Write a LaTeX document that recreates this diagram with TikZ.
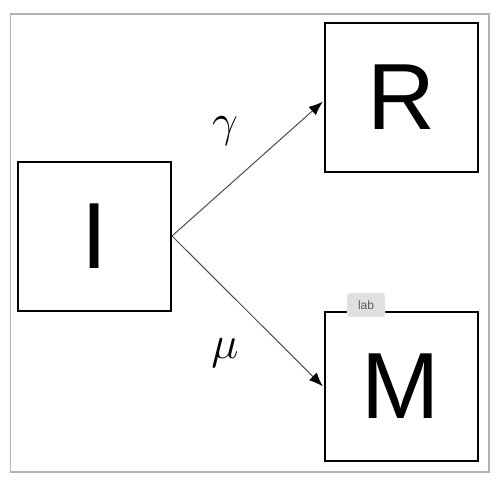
\documentclass[tikz,border=0pt]{standalone}
\usepackage{fontspec}
\newfontfamily\arialfont{Liberation Sans}
\usetikzlibrary{arrows.meta, positioning}
\tikzset{
    state/.style={rectangle, draw=black, line width=2pt, minimum width=153pt, minimum height=149pt, inner sep=0pt, text centered, font=\arialfont\fontsize{94}{94}\selectfont},
    arrow/.style={line width=1pt, draw=black!70, -{Latex[length=14pt, width=11pt, color=black]}, shorten >=1pt},
    rate/.style={font=\fontsize{24.88}{24.88}\selectfont, scale=1.85},
    tag/.style={rectangle, rounded corners=3pt, fill=black!12, draw=black!6, minimum width=38pt, minimum height=24pt, inner sep=0pt, text=black!65, font=\arialfont\fontsize{12}{12}\selectfont}
}
\begin{document}
\begin{tikzpicture}[x=1pt, y=-1pt]
    \useasboundingbox (0,0) rectangle (502,483);
    \draw [black!30, line width=1.2pt] (10.5,14) rectangle (489,472);
    % Nodes
    \node (I) [state] at (94.5,236) {I};
    \node (R) [state] at (401,97) {\raisebox{-5pt}{R}};
    \node (M) [state] at (401,386) {M};
    \node (lab) [tag] at (366,305) {lab};
    \node (gamma) [rate] at (225,131) {$\gamma$};
    \node (mu) [rate] at (225,353) {$\mu$};
    % Arrows
    \draw [arrow] (I.east) -- ([yshift=-4pt]R.west);
    \draw [arrow] (I.east) -- ([yshift=-1pt]M.west);
\end{tikzpicture}
\end{document}
